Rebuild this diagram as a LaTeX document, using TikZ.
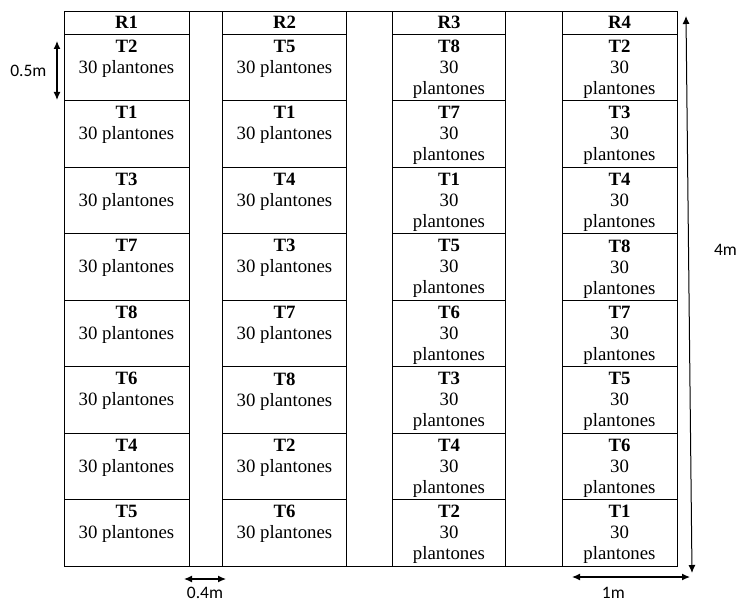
\documentclass[tikz,border=0pt]{standalone}
\usepackage{fontspec}
\setmainfont{Liberation Serif}
\newfontfamily\dimfont{Carlito}
\usetikzlibrary{arrows.meta}

\begin{document}
\begin{tikzpicture}[x=1pt, y=-1pt, line width=0.9pt, every node/.style={align=center, font=\fontsize{18.8}{21}\selectfont}]
\tikzset{
  rhead/.style={draw, inner sep=0pt, minimum height=23pt, font=\fontsize{18.8}{21}\selectfont\bfseries},
  ptext/.style={anchor=north, inner sep=6pt, align=center},
  plot/.style={draw, inner sep=0pt, minimum height=66.5pt, label={[ptext]north:{#1}}},
  cA/.style={minimum width=125pt},
  cB/.style={minimum width=124pt},
  cC/.style={minimum width=113pt},
  cD/.style={minimum width=115pt},
  dim/.style={{Latex[length=8pt,width=7pt]}-{Latex[length=8pt,width=7pt]}, line width=1.2pt},
  dimlab/.style={inner sep=0pt, font=\dimfont\fontsize{17.5}{20}\selectfont}
}
\useasboundingbox (0,0) rectangle (738,604);

% outer frame
\draw (64,11) rectangle (677,566);

% R1
\node[rhead, cA] (r1) at (126.5,22.5) {R1};
\node[plot={\textbf{T2}\\30 plantones}, cA] (r1_t2) at (126.5,67.25) {};
\node[plot={\textbf{T1}\\30 plantones}, cA] (r1_t1) at (126.5,133.75) {};
\node[plot={\textbf{T3}\\30 plantones}, cA] (r1_t3) at (126.5,200.25) {};
\node[plot={\textbf{T7}\\30 plantones}, cA] (r1_t7) at (126.5,266.75) {};
\node[plot={\textbf{T8}\\30 plantones}, cA] (r1_t8) at (126.5,333.25) {};
\node[plot={\textbf{T6}\\30 plantones}, cA] (r1_t6) at (126.5,399.75) {};
\node[plot={\textbf{T4}\\30 plantones}, cA] (r1_t4) at (126.5,466.25) {};
\node[plot={\textbf{T5}\\30 plantones}, cA] (r1_t5) at (126.5,532.75) {};

% R2
\node[rhead, cB] (r2) at (284.5,22.5) {R2};
\node[plot={\textbf{T5}\\30 plantones}, cB] (r2_t5) at (284.5,67.25) {};
\node[plot={\textbf{T1}\\30 plantones}, cB] (r2_t1) at (284.5,133.75) {};
\node[plot={\textbf{T4}\\30 plantones}, cB] (r2_t4) at (284.5,200.25) {};
\node[plot={\textbf{T3}\\30 plantones}, cB] (r2_t3) at (284.5,266.75) {};
\node[plot={\textbf{T7}\\30 plantones}, cB] (r2_t7) at (284.5,333.25) {};
\node[plot={\textbf{T8}\\30 plantones}, cB] (r2_t8) at (284.5,399.75) {};
\node[plot={\textbf{T2}\\30 plantones}, cB] (r2_t2) at (284.5,466.25) {};
\node[plot={\textbf{T6}\\30 plantones}, cB] (r2_t6) at (284.5,532.75) {};

% R3
\node[rhead, cC] (r3) at (449,22.5) {R3};
\node[plot={\textbf{T8}\\30\\plantones}, cC] (r3_t8) at (449,67.25) {};
\node[plot={\textbf{T7}\\30\\plantones}, cC] (r3_t7) at (449,133.75) {};
\node[plot={\textbf{T1}\\30\\plantones}, cC] (r3_t1) at (449,200.25) {};
\node[plot={\textbf{T5}\\30\\plantones}, cC] (r3_t5) at (449,266.75) {};
\node[plot={\textbf{T6}\\30\\plantones}, cC] (r3_t6) at (449,333.25) {};
\node[plot={\textbf{T3}\\30\\plantones}, cC] (r3_t3) at (449,399.75) {};
\node[plot={\textbf{T4}\\30\\plantones}, cC] (r3_t4) at (449,466.25) {};
\node[plot={\textbf{T2}\\30\\plantones}, cC] (r3_t2) at (449,532.75) {};

% R4
\node[rhead, cD] (r4) at (619.5,22.5) {R4};
\node[plot={\textbf{T2}\\30\\plantones}, cD] (r4_t2) at (619.5,67.25) {};
\node[plot={\textbf{T3}\\30\\plantones}, cD] (r4_t3) at (619.5,133.75) {};
\node[plot={\textbf{T4}\\30\\plantones}, cD] (r4_t4) at (619.5,200.25) {};
\node[plot={\textbf{T8}\\30\\plantones}, cD] (r4_t8) at (619.5,266.75) {};
\node[plot={\textbf{T7}\\30\\plantones}, cD] (r4_t7) at (619.5,333.25) {};
\node[plot={\textbf{T5}\\30\\plantones}, cD] (r4_t5) at (619.5,399.75) {};
\node[plot={\textbf{T6}\\30\\plantones}, cD] (r4_t6) at (619.5,466.25) {};
\node[plot={\textbf{T1}\\30\\plantones}, cD] (r4_t1) at (619.5,532.75) {};

% Dimensions
\coordinate (d05_a) at (57,41);
\coordinate (d05_b) at (57,100);
\coordinate (d04_a) at (184,579);
\coordinate (d04_b) at (226,579);
\coordinate (d1_a) at (572,577);
\coordinate (d1_b) at (690,577);
\coordinate (d4_a) at (686,16);
\coordinate (d4_b) at (692,573);

\draw[dim] (d05_a) -- node[dimlab, left=10pt] {0.5m} (d05_b);
\draw[dim] (d04_a) -- node[dimlab, below=8pt] {0.4m} (d04_b);
\draw[dim] (d1_a) -- node[dimlab, below=10pt, pos=0.35] {1m} (d1_b);
\draw[dim, line width=1pt] (d4_a) -- node[dimlab, right=25pt, pos=0.42] {4m} (d4_b);

\end{tikzpicture}
\end{document}
